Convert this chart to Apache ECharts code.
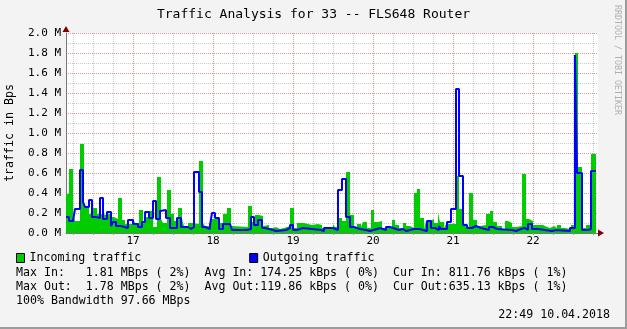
<!DOCTYPE html>
<html><head><meta charset="utf-8">
<script src="https://cdn.jsdelivr.net/npm/echarts@6/dist/echarts.min.js"></script>
<style>html,body{margin:0;padding:0;background:#f3f3f3}#c{width:627px;height:329px}</style>
</head><body><div id="c"></div>
<script>
// ---- data (hours since day 16 00:00, values in M Bps) ----
const titleText = 'Traffic Analysis for 33 -- FLS648 Router';
const yAxisName = 'traffic in Bps';
const seriesNames = ['Incoming traffic', 'Outgoing traffic'];
const dayTicks = [24, 48, 72, 96, 120, 144];
const dayLabels = ['17', '18', '19', '20', '21', '22'];
const xStart = 3.9, xEnd = 163.5, endTime = 162.9;

const inTimes = [3.9,4.8,6.0,6.6,8.1,9.3,9.9,10.8,12.0,13.2,14.4,16.2,17.4,18.3,19.5,20.7,21.6,24.0,24.6,25.8,27.0,27.6,28.8,30.0,31.2,32.4,33.0,34.2,35.4,36.3,37.5,38.7,39.3,40.5,41.7,43.8,45.0,45.6,46.8,47.4,49.8,51.0,52.2,53.4,54.0,58.5,59.7,60.6,61.8,63.0,63.6,64.8,66.0,66.9,68.1,69.3,69.9,71.1,72.3,73.2,75.3,77.7,78.3,79.5,80.7,81.9,84.0,84.6,85.8,86.7,87.9,89.1,90.3,91.2,92.4,93.0,94.2,95.4,96.3,97.5,98.7,101.7,102.6,103.8,105.0,105.9,107.1,108.3,109.2,110.1,111.3,111.9,113.1,114.3,115.5,116.1,117.3,117.9,120.9,121.8,123.0,123.9,124.8,126.0,127.2,128.1,129.9,131.1,132.0,133.2,134.7,135.6,136.5,137.7,138.9,139.5,140.7,141.9,142.8,144.0,147.0,148.2,149.1,150.3,151.2,152.4,153.6,154.2,155.4,156.6,157.5,158.7,159.9,161.4];
const inValues = [0.39,0.64,0.20,0.12,0.89,0.30,0.26,0.19,0.25,0.19,0.18,0.20,0.16,0.14,0.35,0.13,0.09,0.15,0.10,0.23,0.09,0.16,0.22,0.06,0.56,0.14,0.10,0.43,0.19,0.12,0.25,0.14,0.07,0.10,0.09,0.72,0.10,0.07,0.09,0.14,0.10,0.19,0.25,0.07,0.06,0.27,0.11,0.18,0.17,0.07,0.08,0.05,0.06,0.04,0.05,0.04,0.07,0.25,0.05,0.10,0.08,0.07,0.09,0.08,0.05,0.06,0.09,0.06,0.15,0.12,0.61,0.18,0.05,0.09,0.06,0.11,0.05,0.23,0.11,0.12,0.05,0.13,0.08,0.05,0.10,0.07,0.05,0.40,0.44,0.15,0.04,0.12,0.14,0.10,0.20,0.11,0.05,0.09,0.57,0.24,0.08,0.06,0.40,0.13,0.07,0.08,0.19,0.22,0.11,0.07,0.04,0.12,0.10,0.06,0.04,0.07,0.59,0.14,0.12,0.08,0.06,0.05,0.07,0.05,0.08,0.05,0.07,0.04,0.08,1.80,0.66,0.05,0.08,0.79];

const outTimes = [3.9,4.8,6.0,6.6,8.1,9.0,9.6,10.8,11.7,12.9,14.1,15.0,16.2,17.4,18.0,18.9,20.4,22.5,24.0,25.5,26.7,27.6,28.8,30.0,30.9,32.1,32.7,33.9,35.1,37.2,38.4,40.5,41.4,42.3,43.8,44.7,45.6,47.1,47.7,48.6,49.8,51.0,53.1,53.7,58.2,59.4,60.3,61.5,62.7,63.6,66.0,66.9,69.9,71.1,72.0,73.2,75.0,77.7,80.4,81.3,84.0,84.6,85.5,86.7,87.9,89.1,90.3,92.1,92.7,93.9,95.1,97.2,98.1,99.9,101.1,102.9,103.8,105.0,105.9,107.1,108.3,108.9,110.1,111.0,112.2,113.4,114.6,115.8,116.4,118.2,119.4,120.9,121.8,123.0,124.2,125.7,126.9,128.4,129.0,130.8,132.0,133.2,137.7,138.9,140.4,141.6,142.5,143.7,145.5,149.7,150.9,155.1,156.6,157.2,158.7,160.5,161.4];
const outValues = [0.16,0.12,0.14,0.24,0.63,0.31,0.26,0.33,0.16,0.15,0.35,0.14,0.21,0.07,0.11,0.07,0.05,0.13,0.09,0.06,0.11,0.21,0.15,0.32,0.14,0.22,0.23,0.15,0.05,0.15,0.06,0.04,0.06,0.61,0.41,0.06,0.04,0.08,0.20,0.15,0.04,0.09,0.07,0.03,0.04,0.16,0.08,0.13,0.05,0.03,0.02,0.03,0.05,0.08,0.03,0.05,0.04,0.03,0.02,0.05,0.07,0.03,0.43,0.54,0.16,0.06,0.04,0.05,0.03,0.02,0.04,0.05,0.03,0.06,0.04,0.03,0.04,0.02,0.03,0.04,0.06,0.04,0.03,0.02,0.12,0.05,0.03,0.07,0.04,0.11,0.24,1.44,0.57,0.08,0.05,0.07,0.05,0.04,0.03,0.06,0.04,0.03,0.02,0.04,0.05,0.03,0.09,0.04,0.02,0.03,0.02,0.05,1.78,0.60,0.03,0.04,0.62];

const statLines = [
  'Max In:   1.81 MBps ( 2%)  Avg In: 174.25 kBps ( 0%)  Cur In: 811.76 kBps ( 1%)',
  'Max Out:  1.78 MBps ( 2%)  Avg Out:119.86 kBps ( 0%)  Cur Out:635.13 kBps ( 1%)',
  '100% Bandwidth 97.66 MBps'
];
const timestamp = '22:49 10.04.2018';
const watermark = 'RRDTOOL / TOBI OETIKER';

// ---- build ----
const mono = 'DejaVu Sans Mono';
function steps(t, v) {
  const d = t.map((x, i) => [x, v[i]]);
  d.push([endTime, v[v.length - 1]]);
  return d;
}
const minorHours = [];
for (let h = 6; h < xEnd; h += 6) minorHours.push(h);
const MINOR = '#c8c8c8', MAJOR = '#d49a9a';

const chart = echarts.init(document.getElementById('c'), null, {renderer: 'canvas'});
const statGraphics = statLines.map((s, i) => ({
  type: 'text', x: 16, y: 273 + i * 14,
  style: {text: s, font: '11.6px "DejaVu Sans Mono"', fill: '#000', verticalAlign: 'middle'}
}));
chart.setOption({
  animation: false,
  backgroundColor: '#f3f3f3',
  title: {text: titleText, left: 'center', top: 8, padding: 0,
    textStyle: {fontFamily: mono, fontSize: 13, fontWeight: 'normal', color: '#000'}},
  legend: {left: 16, top: 252, padding: 0, itemWidth: 8, itemHeight: 9, itemGap: 108, selectedMode: false,
    textStyle: {fontFamily: mono, fontSize: 11.6, color: '#000'},
    itemStyle: {borderColor: '#000', borderWidth: 1},
    data: [{name: seriesNames[0], icon: 'rect'}, {name: seriesNames[1], icon: 'rect'}]},
  grid: {left: 66, top: 33, width: 532, height: 200, show: true, backgroundColor: '#fff', borderWidth: 0,
    containLabel: false, outerBoundsMode: 'none'},
  xAxis: {
    type: 'value', min: xStart, max: xEnd,
    axisLine: {show: true, lineStyle: {color: '#777', width: 1}},
    axisTick: {show: true, customValues: minorHours, length: 2, lineStyle: {color: '#999'}},
    axisLabel: {customValues: dayTicks, margin: 3, fontFamily: mono, fontSize: 11, color: '#000',
      formatter: v => dayLabels[dayTicks.indexOf(Math.round(v))] || ''},
    splitLine: {show: true, lineStyle: {type: [1, 1], width: 1, color: [MINOR, MINOR, MINOR, MAJOR]}}
  },
  yAxis: {
    type: 'value', min: 0, max: 2, interval: 0.1,
    name: yAxisName, nameLocation: 'middle', nameGap: 50,
    nameTextStyle: {fontFamily: mono, fontSize: 11.6, color: '#000'},
    axisLine: {show: true, lineStyle: {color: '#777', width: 1}},
    axisTick: {show: false},
    axisLabel: {margin: 5, fontFamily: mono, fontSize: 11, color: '#000',
      formatter: v => (Math.round(v * 10) % 2 === 0 ? v.toFixed(1) + ' M' : '')},
    splitLine: {show: true, lineStyle: {type: [1, 1], width: 1, color: [MAJOR, MINOR]}}
  },
  series: [
    {name: seriesNames[0], type: 'line', step: 'end', symbol: 'none', silent: true,
      color: '#00cc00', lineStyle: {width: 0}, areaStyle: {color: '#00cc00', opacity: 1},
      data: steps(inTimes, inValues), z: 2},
    {name: seriesNames[1], type: 'line', step: 'end', symbol: 'none', silent: true,
      color: '#0000ff', lineStyle: {width: 2, color: '#0000ff'},
      data: steps(outTimes, outValues), z: 3}
  ],
  graphic: [
    {type: 'polygon', shape: {points: [[62.5, 32], [69.5, 32], [66, 26]]}, style: {fill: '#7f0000'}, z: 10},
    {type: 'polygon', shape: {points: [[598, 229.5], [598, 236.5], [604, 233]]}, style: {fill: '#7f0000'}, z: 10},
    {type: 'text', x: 617, y: 5, rotation: -Math.PI / 2,
      style: {text: watermark, font: '8.3px "DejaVu Sans Mono"', fill: '#b0b0b0', align: 'left', verticalAlign: 'middle'}},
    ...statGraphics,
    {type: 'text', x: 610, y: 315,
      style: {text: timestamp, font: '11.6px "DejaVu Sans Mono"', fill: '#000', align: 'right', verticalAlign: 'middle'}},
    {type: 'rect', shape: {x: 625, y: 0, width: 2, height: 329}, style: {fill: '#9c9c9c'}},
    {type: 'rect', shape: {x: 0, y: 327, width: 627, height: 2}, style: {fill: '#9c9c9c'}}
  ]
});
</script></body></html>
